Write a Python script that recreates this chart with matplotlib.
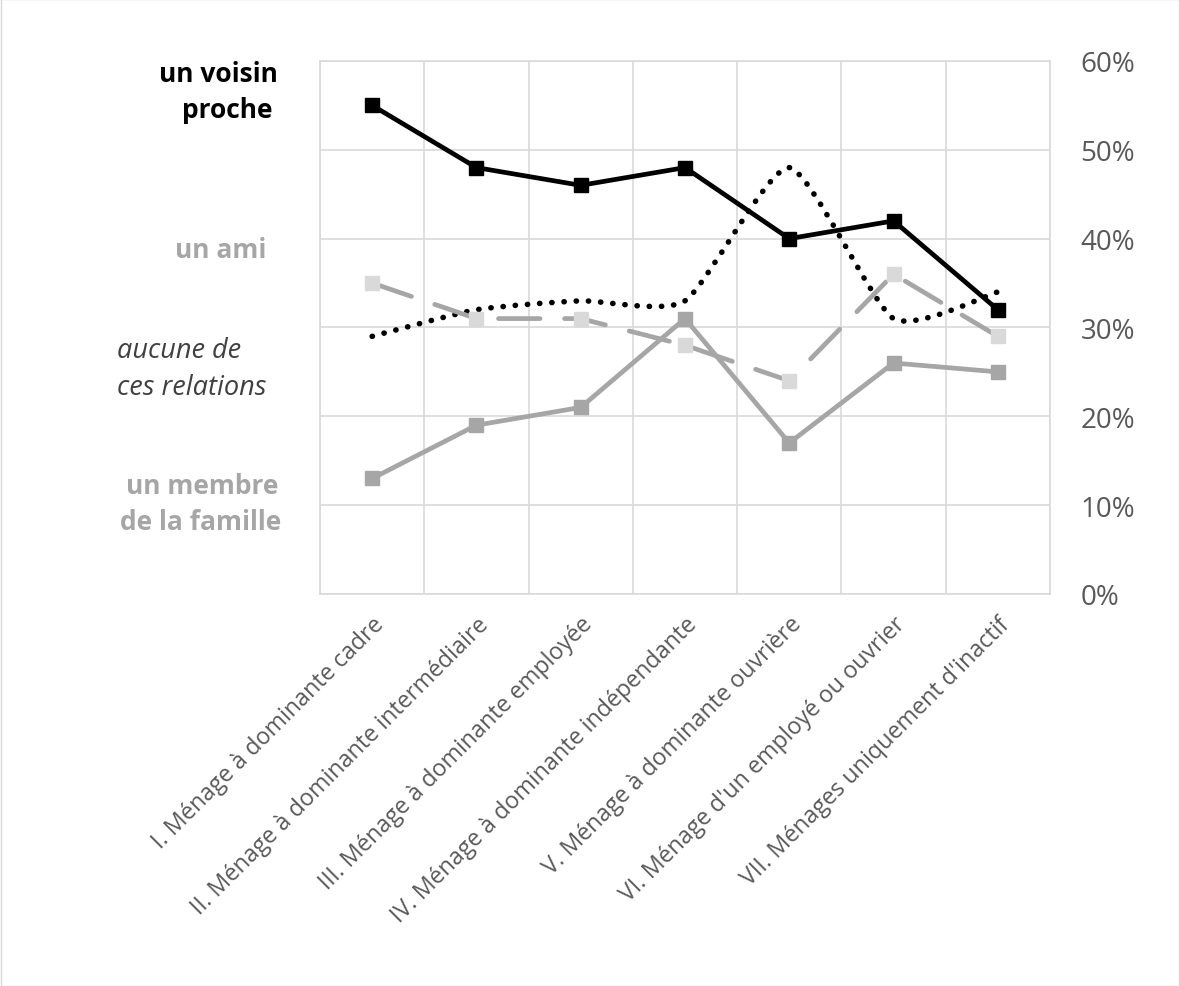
import numpy as np
import matplotlib
matplotlib.use("Agg")
import matplotlib.pyplot as plt
import matplotlib.patches as patches
from matplotlib.path import Path

plt.rcParams["font.family"] = ["Open Sans", "DejaVu Sans"]

categories = [
	"I. Ménage à dominante cadre",
	"II. Ménage à dominante intermédiaire",
	"III. Ménage à dominante employée",
	"IV. Ménage à dominante indépendante",
	"V. Ménage à dominante ouvrière",
	"VI. Ménage d'un employé ou ouvrier",
	"VII. Ménages uniquement d'inactif",
]
voisin = [0.55, 0.48, 0.46, 0.48, 0.40, 0.42, 0.32]
ami = [0.35, 0.31, 0.31, 0.28, 0.24, 0.36, 0.29]
aucune = [0.29, 0.32, 0.33, 0.33, 0.48, 0.31, 0.34]
famille = [0.13, 0.19, 0.21, 0.31, 0.17, 0.26, 0.25]
y_ticks = [0, 0.1, 0.2, 0.3, 0.4, 0.5, 0.6]

GRID = "#d9d9d9"
x = np.arange(len(categories))

fig = plt.figure(figsize=(11.8, 9.87), dpi=100)
fig.patches.append(patches.Rectangle((0.0005, 0.0005), 0.999, 0.999, transform=fig.transFigure,
	fill=False, edgecolor=GRID, lw=1))
ax = fig.add_axes([0.2712, 0.3972, 0.6186, 0.5400])

ax.set_xlim(-0.5, len(categories) - 0.5)
ax.set_ylim(0, 0.6)
ax.set_yticks(y_ticks)
ax.set_yticklabels([f"{int(round(t * 100))}%" for t in y_ticks], fontsize=20, color="#595959")
ax.yaxis.tick_right()
ax.tick_params(axis="y", length=0, pad=22)
ax.set_xticks(x)
ax.set_xticklabels(categories, rotation=45, ha="right", rotation_mode="anchor",
	fontsize=16.8, color="#595959")
ax.tick_params(axis="x", length=0, pad=13)
ax.set_xticks(np.arange(len(categories) + 1) - 0.5, minor=True)
ax.tick_params(axis="x", which="minor", length=0)
ax.grid(axis="y", which="major", color=GRID, lw=1.2)
ax.grid(axis="x", which="minor", color=GRID, lw=1.2)
ax.set_axisbelow(True)
for s in ax.spines.values():
	s.set_color(GRID)
	s.set_linewidth(1.2)

# smoothed dotted line (Catmull-Rom -> bezier), the way Excel draws it
def smooth_path(xs, ys, k=0.6):
	pts = np.column_stack([xs, ys])
	verts = [pts[0]]
	codes = [Path.MOVETO]
	n = len(pts)
	for i in range(n - 1):
		p0 = pts[i - 1] if i > 0 else pts[i]
		p1 = pts[i]
		p2 = pts[i + 1]
		p3 = pts[i + 2] if i + 2 < n else pts[i + 1]
		c1 = p1 + (p2 - p0) / 6 * k
		c2 = p2 - (p3 - p1) / 6 * k
		verts += [c1, c2, p2]
		codes += [Path.CURVE4] * 3
	return Path(verts, codes)

ax.add_patch(patches.PathPatch(smooth_path(x, aucune), facecolor="none", edgecolor="black",
	lw=4.0, linestyle=(0, (0.05, 2.15)), capstyle="round", zorder=3))

ax.plot(x, famille, color="#a6a6a6", lw=3.4, marker="s", markersize=10.5,
	markerfacecolor="#a6a6a6", markeredgecolor="#a6a6a6", zorder=4)
ax.plot(x, ami, color="#a6a6a6", lw=3.4, dashes=(8.8, 5.2), dash_capstyle="round",
	marker="s", markersize=10.5, markerfacecolor="#d9d9d9", markeredgecolor="#d9d9d9", zorder=4)
ax.plot(x, voisin, color="black", lw=3.4, marker="s", markersize=10.5,
	markerfacecolor="black", markeredgecolor="black", zorder=5)

# series labels on the left
bold = dict(fontsize=19, fontweight="bold", va="center")
ital = dict(fontsize=19.5, style="italic", color="#404040", va="center", ha="left")
fig.text(218 / 1180, 1 - 75 / 987, "un voisin", color="black", ha="center", **bold)
fig.text(227 / 1180, 1 - 110 / 987, "proche", color="black", ha="center", **bold)
fig.text(266 / 1180, 1 - 250 / 987, "un ami", color="#a6a6a6", ha="right", **bold)
fig.text(117 / 1180, 1 - 351 / 987, "aucune de", **ital)
fig.text(117 / 1180, 1 - 388 / 987, "ces relations", **ital)
fig.text(202 / 1180, 1 - 487 / 987, "un membre", color="#a6a6a6", ha="center", **bold)
fig.text(201 / 1180, 1 - 523 / 987, "de la famille", color="#a6a6a6", ha="center", **bold)

fig.savefig("out.png", dpi=100)
